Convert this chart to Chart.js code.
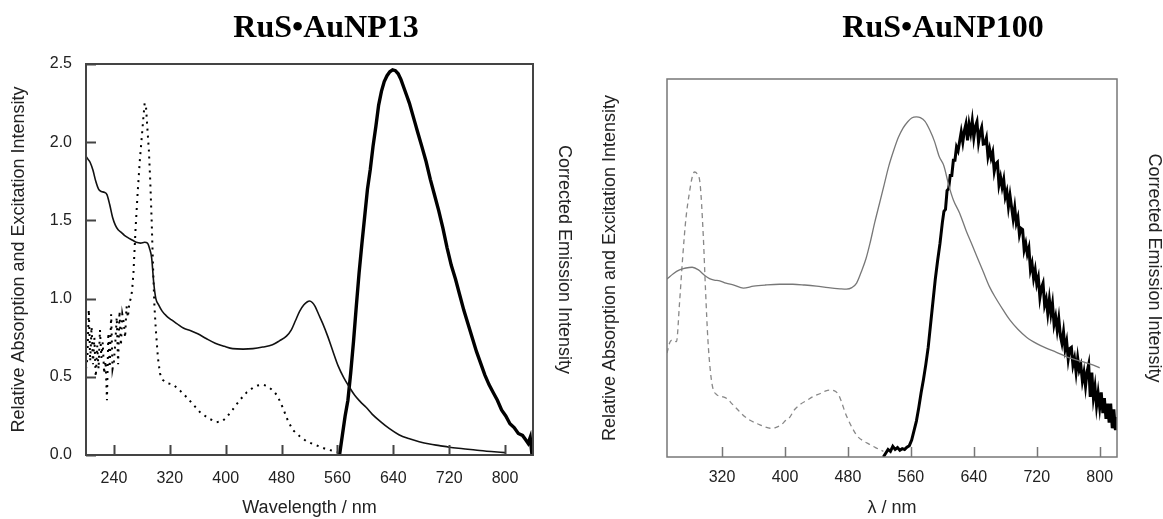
<!DOCTYPE html>
<html>
<head>
<meta charset="utf-8">
<script src="https://cdn.jsdelivr.net/npm/chart.js@4.4.1/dist/chart.umd.min.js"></script>
<style>
  html, body { margin: 0; padding: 0; background: #fff; overflow: hidden; }
  #leftBox { position: absolute; left: 0; top: 0; width: 620px; height: 519px; }
  #rightBox { position: absolute; left: 597px; top: 0; width: 566px; height: 519px; }
</style>
</head>
<body>
<div id="leftBox"><canvas id="leftChart" width="620" height="519"></canvas></div>
<div id="rightBox"><canvas id="rightChart" width="566" height="519"></canvas></div>
<script>
// ---- tick labels ----
const leftXTicks = [240, 320, 400, 480, 560, 640, 720, 800];
const leftYTicks = [0, 0.5, 1.0, 1.5, 2.0, 2.5];
const rightXTicks = [320, 400, 480, 560, 640, 720, 800];

// ---- RuS•AuNP13 : absorption (solid) ----
const absL_x = [200,203,206,210,214,218,222,226,230,234,238,242,246,250,255,260,266,272,278,284,288,291,294,297,300,304,309,315,322,330,340,350,360,372,385,398,410,425,439,453,467,477,487,494,500,506,512,517,520,524,528,533,539,546,553,561,569,577,585,593,601,610,620,634,648,662,677,692,706,720,740,760,780,800];
const absL_y = [1.91,1.89,1.87,1.82,1.75,1.70,1.685,1.68,1.665,1.60,1.52,1.47,1.44,1.425,1.405,1.39,1.375,1.36,1.355,1.36,1.355,1.32,1.26,1.10,1.00,0.96,0.92,0.89,0.865,0.84,0.81,0.795,0.775,0.745,0.715,0.695,0.68,0.677,0.68,0.69,0.705,0.73,0.76,0.80,0.86,0.92,0.96,0.98,0.985,0.975,0.95,0.90,0.84,0.76,0.67,0.57,0.495,0.435,0.38,0.34,0.305,0.26,0.22,0.17,0.13,0.105,0.085,0.07,0.06,0.05,0.04,0.03,0.022,0.015];

// ---- RuS•AuNP13 : excitation (dotted) ----
const excL_x = [200,202,204,206,208,210,212,214,216,218,220,222,224,226,228,230,232,234,236,238,240,242,244,246,248,250,252,254,256,258,260,262,264,266,268,271,274,277,280,282,284,286,288,290,292,294,296,298,300,303,306,310,316,325,335,344,354,363,375,387,395,401,410,420,430,439,446,453,460,467,474,482,489,496,506,515,525,534,545,556,560];
const excL_y = [0.55,0.62,0.93,0.60,0.82,0.58,0.75,0.50,0.70,0.55,0.80,0.62,0.72,0.52,0.60,0.35,0.78,0.56,0.90,0.55,0.60,0.72,0.88,0.58,0.92,0.70,0.90,0.85,0.75,0.95,0.88,0.97,1.00,1.05,1.17,1.45,1.68,1.88,2.04,2.15,2.25,2.22,2.08,1.95,1.75,1.50,1.20,0.95,0.80,0.62,0.52,0.48,0.46,0.45,0.41,0.37,0.32,0.275,0.235,0.21,0.215,0.24,0.29,0.35,0.40,0.43,0.445,0.45,0.44,0.415,0.38,0.30,0.22,0.16,0.12,0.09,0.07,0.055,0.035,0.025,0.02];

// ---- RuS•AuNP13 : emission (thick, right axis) ----
const emL_x = [560,563,567,571,575,579,583,587,591,595,599,603,607,611,615,619,623,627,631,635,639,643,647,651,655,659,663,667,671,675,681,687,693,699,705,711,717,723,729,735,741,747,753,759,765,771,777,783,789,795,801,807,813,819,825,829,833,836,838,840];
const emL_y = [0,0.0,0.05,0.10,0.14,0.21,0.29,0.38,0.466,0.54,0.61,0.68,0.73,0.79,0.84,0.895,0.93,0.955,0.97,0.98,0.985,0.983,0.975,0.96,0.94,0.92,0.90,0.875,0.85,0.825,0.788,0.75,0.705,0.665,0.625,0.58,0.53,0.485,0.45,0.41,0.37,0.335,0.30,0.265,0.235,0.205,0.18,0.16,0.14,0.115,0.10,0.08,0.07,0.055,0.05,0.04,0.03,0.045,0.01,0.02];

// ---- RuS•AuNP100 : absorption (solid grey) ----
const absR_x = [250,258,266,274,282,290,298,304,310,317,325,335,347,360,375,393,410,425,440,455,470,478,485,491,497,503,508,514,520,526,532,538,544,550,556,561,567,572,578,584,590,596,602,608,614,622,630,638,644,652,660,668,677,686,696,707,720,732,745,758,770,783,792,800];
const absR_y = [0.471,0.485,0.495,0.50,0.502,0.495,0.48,0.472,0.468,0.466,0.46,0.455,0.447,0.452,0.455,0.457,0.457,0.455,0.452,0.448,0.445,0.444,0.448,0.46,0.49,0.525,0.565,0.62,0.67,0.72,0.77,0.81,0.845,0.87,0.887,0.897,0.90,0.898,0.888,0.865,0.835,0.795,0.77,0.72,0.68,0.645,0.60,0.56,0.53,0.49,0.45,0.42,0.39,0.362,0.338,0.317,0.30,0.288,0.277,0.265,0.257,0.249,0.243,0.236];

// ---- RuS•AuNP100 : excitation (dashed grey) ----
const excR_x = [250,254,258,262,266,270,274,279,282,285,288,292,296,299,302,305,308,313,320,326,333,340,347,355,365,374,381,388,395,401,406,412,420,428,436,445,452,457,463,468,472,476,480,486,492,500,508,515,520,525];
const excR_y = [0.275,0.305,0.31,0.305,0.41,0.53,0.63,0.706,0.74,0.754,0.75,0.724,0.59,0.44,0.31,0.23,0.185,0.165,0.16,0.155,0.14,0.125,0.11,0.098,0.088,0.08,0.076,0.078,0.085,0.097,0.105,0.125,0.14,0.15,0.16,0.168,0.175,0.177,0.175,0.165,0.145,0.12,0.10,0.075,0.055,0.042,0.033,0.025,0.02,0.015];

// ---- RuS•AuNP100 : emission (thick, noisy) ----
const emR_x = [525,528,531,534,537,540,543,546,549,552,555,558,561,564,567,570,573,576,579,582,585,588,591,594,597,600,602,604,606,608,610,612,614,616,618,620,622,624,626,628,630,632,634,636,638,640,642,644,646,648,650,652,654,656,658,660,662,664,666,668,670,672,674,676,678,680,682,684,686,688,690,692,694,696,698,700,702,704,706,708,710,712,714,716,718,720,722,724,726,728,730,732,734,736,738,740,742,744,746,748,750,752,754,756,758,760,762,764,766,768,770,772,774,776,778,780,782,784,786,788,790,792,794,796,798,800,802,804,806,808,810,812,814,816,818,820,822];
const emR_y = [0.0,0.01,0.02,0.015,0.028,0.02,0.025,0.018,0.022,0.02,0.026,0.03,0.045,0.07,0.095,0.13,0.17,0.205,0.245,0.29,0.35,0.41,0.47,0.52,0.565,0.62,0.65,0.655,0.705,0.71,0.745,0.745,0.785,0.785,0.82,0.81,0.835,0.86,0.833,0.863,0.881,0.838,0.88,0.857,0.889,0.845,0.874,0.887,0.833,0.858,0.872,0.828,0.829,0.844,0.795,0.815,0.791,0.806,0.756,0.776,0.78,0.72,0.74,0.714,0.734,0.688,0.703,0.662,0.692,0.661,0.63,0.66,0.619,0.634,0.588,0.605,0.602,0.548,0.565,0.537,0.553,0.495,0.512,0.473,0.495,0.458,0.475,0.422,0.448,0.46,0.402,0.418,0.38,0.417,0.379,0.406,0.351,0.371,0.336,0.366,0.321,0.301,0.331,0.286,0.306,0.259,0.287,0.29,0.243,0.261,0.224,0.262,0.23,0.243,0.201,0.224,0.187,0.226,0.245,0.159,0.223,0.157,0.186,0.135,0.169,0.131,0.171,0.116,0.156,0.101,0.141,0.091,0.141,0.076,0.126,0.071,0.106];

Chart.defaults.font.family = "'Liberation Sans', Arial, sans-serif";
Chart.defaults.color = '#222';

const pts = (xs, ys) => xs.map((x, i) => ({ x: x, y: ys[i] }));

// frame box + inward tick marks
const framePlugin = {
  id: 'frame',
  afterDatasetsDraw(chart, args, opts) {
    const { ctx, chartArea: a, scales } = chart;
    ctx.save();
    ctx.strokeStyle = opts.color;
    ctx.lineWidth = opts.width;
    ctx.strokeRect(a.left, a.top, a.right - a.left, a.bottom - a.top);
    ctx.beginPath();
    scales.x.ticks.forEach(t => {
      const px = Math.round(scales.x.getPixelForValue(t.value)) + 0.5;
      ctx.moveTo(px, a.bottom);
      ctx.lineTo(px, a.bottom - opts.tick);
    });
    if (opts.yTicks) {
      scales.y.ticks.forEach(t => {
        const py = Math.round(scales.y.getPixelForValue(t.value)) + 0.5;
        ctx.moveTo(a.left, py);
        ctx.lineTo(a.left + opts.tick, py);
      });
    }
    ctx.stroke();
    ctx.restore();
  }
};

// panel heading
const panelTitle = {
  id: 'panelTitle',
  afterDraw(chart, args, opts) {
    const ctx = chart.ctx;
    ctx.save();
    ctx.font = "bold 32px 'Liberation Serif', 'Times New Roman', serif";
    ctx.fillStyle = '#000';
    ctx.textAlign = 'center';
    ctx.textBaseline = 'alphabetic';
    ctx.fillText(opts.text, opts.x, opts.y);
    ctx.restore();
  }
};

const tickFont = { size: 16 };
const titleFont = { size: 18 };

// left panel
new Chart(document.getElementById('leftChart').getContext('2d'), {
  type: 'line',
  data: {
    datasets: [
      { data: pts(absL_x, absL_y), borderColor: '#111', borderWidth: 1.6, cubicInterpolationMode: 'monotone', yAxisID: 'y' },
      { data: pts(excL_x, excL_y), borderColor: '#000', borderWidth: 2, borderDash: [2, 5], tension: 0, yAxisID: 'y' },
      { data: pts(emL_x, emL_y), borderColor: '#000', borderWidth: 3.4, tension: 0, yAxisID: 'y2' }
    ]
  },
  options: {
    responsive: false,
    animation: false,
    events: [],
    elements: { point: { radius: 0 } },
    layout: { padding: { top: 64, left: 0, right: 0, bottom: 0 } },
    plugins: {
      legend: { display: false },
      tooltip: { enabled: false },
      frame: { color: '#444', width: 2, tick: 10, yTicks: true },
      panelTitle: { text: 'RuS•AuNP13', x: 326, y: 37 }
    },
    scales: {
      x: {
        type: 'linear', min: 200, max: 840,
        afterBuildTicks: s => { s.ticks = leftXTicks.map(v => ({ value: v })); },
        afterFit: s => { s.height = 64; },
        grid: { display: false, drawTicks: false },
        border: { display: false },
        ticks: { font: tickFont, padding: 14, color: '#222' },
        title: { display: true, text: 'Wavelength / nm', font: titleFont, padding: { top: 0, bottom: 0 }, color: '#222' }
      },
      y: {
        type: 'linear', position: 'left', min: 0, max: 2.5,
        afterBuildTicks: s => { s.ticks = leftYTicks.map(v => ({ value: v })); },
        afterFit: s => { s.width = 86; },
        grid: { display: false, drawTicks: false },
        border: { display: false },
        ticks: { font: tickFont, padding: 14, color: '#222', callback: v => v.toFixed(1) },
        title: { display: true, text: 'Relative Absorption and Excitation Intensity', font: titleFont, padding: { top: 8, bottom: 0 }, color: '#222' }
      },
      y2: {
        type: 'linear', position: 'right', min: 0, max: 1,
        afterFit: s => { s.width = 87; },
        grid: { display: false, drawTicks: false },
        border: { display: false },
        ticks: { display: false },
        title: { display: true, text: 'Corrected Emission Intensity', font: titleFont, padding: { top: 45, bottom: 0 }, color: '#222' }
      }
    }
  },
  plugins: [framePlugin, panelTitle]
});

// right panel
new Chart(document.getElementById('rightChart').getContext('2d'), {
  type: 'line',
  data: {
    datasets: [
      { data: pts(absR_x, absR_y), borderColor: '#777', borderWidth: 1.3, cubicInterpolationMode: 'monotone', yAxisID: 'y' },
      { data: pts(excR_x, excR_y), borderColor: '#888', borderWidth: 1.3, borderDash: [5, 4], cubicInterpolationMode: 'monotone', yAxisID: 'y' },
      { data: pts(emR_x, emR_y), borderColor: '#000', borderWidth: 3, tension: 0, yAxisID: 'y2' }
    ]
  },
  options: {
    responsive: false,
    animation: false,
    events: [],
    elements: { point: { radius: 0 } },
    layout: { padding: { top: 79, left: 0, right: 0, bottom: 0 } },
    plugins: {
      legend: { display: false },
      tooltip: { enabled: false },
      frame: { color: '#777', width: 1.5, tick: 10, yTicks: false },
      panelTitle: { text: 'RuS•AuNP100', x: 346, y: 37 }
    },
    scales: {
      x: {
        type: 'linear', min: 250, max: 822,
        afterBuildTicks: s => { s.ticks = rightXTicks.map(v => ({ value: v })); },
        afterFit: s => { s.height = 62; },
        grid: { display: false, drawTicks: false },
        border: { display: false },
        ticks: { font: tickFont, padding: 11, color: '#222' },
        title: { display: true, text: 'λ / nm', font: titleFont, padding: { top: 0, bottom: 0 }, color: '#222' }
      },
      y: {
        type: 'linear', position: 'left', min: 0, max: 1,
        afterFit: s => { s.width = 70; },
        grid: { display: false, drawTicks: false },
        border: { display: false },
        ticks: { display: false },
        title: { display: true, text: 'Relative Absorption and Excitation Intensity', font: titleFont, padding: { top: 2, bottom: 0 }, color: '#222' }
      },
      y2: {
        type: 'linear', position: 'right', min: 0, max: 1,
        afterFit: s => { s.width = 46; },
        grid: { display: false, drawTicks: false },
        border: { display: false },
        ticks: { display: false },
        title: { display: true, text: 'Corrected Emission Intensity', font: titleFont, padding: { top: -2, bottom: 0 }, color: '#222' }
      }
    }
  },
  plugins: [framePlugin, panelTitle]
});
</script>
</body>
</html>
